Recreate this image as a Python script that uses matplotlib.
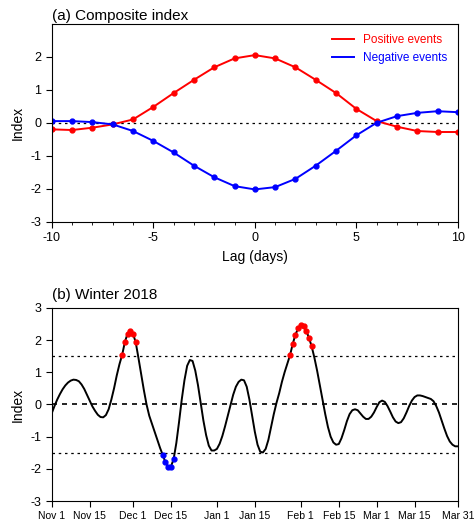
import matplotlib
matplotlib.use('Agg')
import matplotlib.pyplot as plt
import numpy as np

plt.rcParams['font.family'] = ['Liberation Sans', 'DejaVu Sans']
plt.rcParams['axes.unicode_minus'] = False

# (a) composite index
lags = list(range(-10, 11))
pos_events = [-0.2, -0.22, -0.15, -0.05, 0.1, 0.48, 0.9, 1.3, 1.68, 1.95, 2.05,
              1.95, 1.68, 1.3, 0.9, 0.42, 0.05, -0.12, -0.25, -0.28, -0.28]
neg_events = [0.05, 0.05, 0.02, -0.05, -0.25, -0.55, -0.9, -1.3, -1.65, -1.92, -2.02,
              -1.95, -1.7, -1.3, -0.85, -0.38, 0.0, 0.2, 0.3, 0.35, 0.32]

# (b) winter 2018 daily index, Nov 1 .. Mar 31
winter = [-0.27, -0.05, 0.15, 0.32, 0.47, 0.59, 0.68, 0.74, 0.77, 0.76,
          0.72, 0.62, 0.48, 0.3, 0.12, -0.06, -0.2, -0.32, -0.39, -0.4,
          -0.33, -0.15, 0.15, 0.5, 0.9, 1.25, 1.54, 1.94, 2.2, 2.28,
          2.2, 1.93, 1.45, 0.95, 0.45, 0.0, -0.35, -0.6, -0.85, -1.1,
          -1.35, -1.57, -1.8, -1.95, -1.93, -1.7, -1.2, -0.55, 0.15, 0.75,
          1.2, 1.38, 1.35, 1.05, 0.6, 0.05, -0.5, -0.95, -1.28, -1.43,
          -1.43, -1.38, -1.22, -0.98, -0.68, -0.35, -0.02, 0.3, 0.55, 0.7,
          0.77, 0.75, 0.55, 0.15, -0.35, -0.85, -1.25, -1.47, -1.49, -1.38,
          -1.1, -0.7, -0.3, 0.05, 0.35, 0.7, 1.0, 1.27, 1.53, 1.88,
          2.17, 2.36, 2.47, 2.44, 2.28, 2.07, 1.8, 1.45, 1.05, 0.6,
          0.15, -0.3, -0.7, -1.0, -1.18, -1.25, -1.23, -1.05, -0.8, -0.52,
          -0.3, -0.18, -0.15, -0.18, -0.28, -0.38, -0.45, -0.45, -0.38, -0.25,
          -0.08, 0.07, 0.12, 0.08, -0.05, -0.22, -0.4, -0.53, -0.58, -0.55,
          -0.43, -0.25, -0.05, 0.12, 0.23, 0.28, 0.28, 0.26, 0.23, 0.2,
          0.17, 0.1, -0.05, -0.25, -0.5, -0.75, -0.98, -1.15, -1.25, -1.3,
          -1.3]
date_ticks = [0, 14, 30, 44, 61, 75, 92, 106, 120, 134, 150]
date_labels = ['Nov 1', 'Nov 15', 'Dec 1', 'Dec 15', 'Jan 1', 'Jan 15',
               'Feb 1', 'Feb 15', 'Mar 1', 'Mar 15', 'Mar 31']

fig = plt.figure(figsize=(4.75, 5.28), dpi=100)
ax1 = fig.add_axes([0.109, 0.58, 0.855, 0.375])
ax2 = fig.add_axes([0.109, 0.051, 0.855, 0.366])

for ax in (ax1, ax2):
    ax.tick_params(direction='out', labelsize=9, length=4, top=False, right=False)
    ax.set_ylim(-3, 3)
    ax.set_ylabel('Index', fontsize=10)

ax1.axhline(0, color='black', ls=(0, (2, 3)), lw=0.9)
ax1.plot(lags, pos_events, color='red', marker='o', ms=3.5, lw=1.4, label='Positive events')
ax1.plot(lags, neg_events, color='blue', marker='o', ms=3.5, lw=1.4, label='Negative events')
ax1.set_xlim(-10, 10)
ax1.set_xticks([-10, -5, 0, 5, 10])
ax1.set_xticks(range(-10, 11), minor=True)
ax1.set_yticks([-3, -2, -1, 0, 1, 2])
ax1.tick_params(which='minor', direction='out', length=2, top=False, right=False)
ax1.set_xlabel('Lag (days)', fontsize=10)
ax1.set_title('(a) Composite index', loc='left', fontsize=11, pad=3)
leg = ax1.legend(loc='upper right', frameon=False, fontsize=8.5, handlelength=1.8,
                 markerscale=0)
for txt, c in zip(leg.get_texts(), ['red', 'blue']):
    txt.set_color(c)

days = np.arange(len(winter))
w = np.array(winter)
for lev in (-1.5, 1.5):
    ax2.axhline(lev, color='black', ls=(0, (2, 3)), lw=0.9)
ax2.axhline(0, color='black', ls=(0, (3, 3)), lw=1.2)
ax2.plot(days, w, color='black', lw=1.4)
hi = w > 1.5
lo = w < -1.5
ax2.plot(days[hi], w[hi], 'o', color='red', ms=3.5)
ax2.plot(days[lo], w[lo], 'o', color='blue', ms=3.5)
ax2.set_xlim(0, 150)
ax2.set_xticks(date_ticks)
ax2.set_xticklabels(date_labels, fontsize=7.5)
ax2.set_yticks([-3, -2, -1, 0, 1, 2, 3])
ax2.set_title('(b) Winter 2018', loc='left', fontsize=11, pad=6)

fig.savefig('out.png', dpi=100)
